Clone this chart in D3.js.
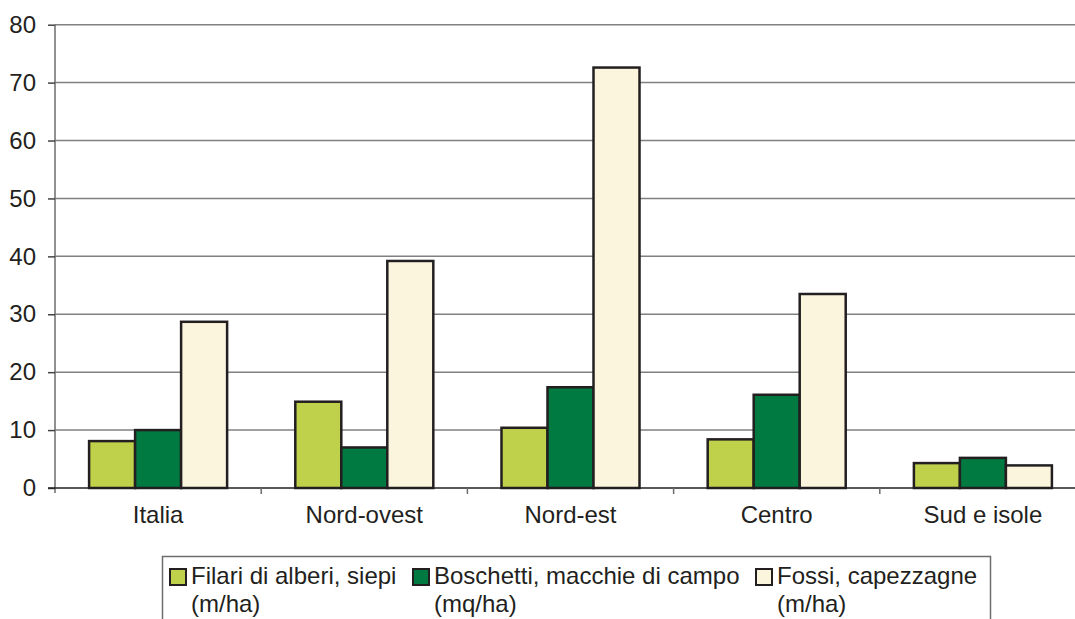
<!DOCTYPE html>
<html>
<head>
<meta charset="utf-8">
<script src="https://cdn.jsdelivr.net/npm/d3@7"></script>
<style>
  html, body { margin: 0; padding: 0; background: #fff; }
  svg { display: block; font-family: "Liberation Sans", Arial, sans-serif; }
</style>
</head>
<body>
<svg id="chart" width="1075" height="619"></svg>
<script>
// Regions and the three landscape-element series
const categories = ["Italia", "Nord-ovest", "Nord-est", "Centro", "Sud e isole"];
const filari = [8.1, 14.9, 10.4, 8.4, 4.3];
const boschetti = [10.0, 7.0, 17.4, 16.1, 5.2];
const fossi = [28.7, 39.2, 72.6, 33.5, 3.9];
const yTicks = [0, 10, 20, 30, 40, 50, 60, 70, 80];

const seriesNames = [
  ["Filari di alberi, siepi", "(m/ha)"],
  ["Boschetti, macchie di campo", "(mq/ha)"],
  ["Fossi, capezzagne", "(m/ha)"]
];
const seriesColors = ["#bfd04b", "#007a40", "#fbf5dd"];
const seriesValues = [filari, boschetti, fossi];

const svg = d3.select("#chart");
const plotLeft = 55, plotRight = 1086, plotTop = 24.7, plotBottom = 488;
const fontSize = 24;

const x = d3.scaleBand().domain(categories).range([plotLeft, plotRight]).paddingInner(0).paddingOuter(0);
const xs = d3.scaleBand().domain([0, 1, 2]).range([0, x.bandwidth()]).paddingInner(0).paddingOuter(0.741);
const y = d3.scaleLinear().domain([0, 80]).range([plotBottom, plotTop]);

// Horizontal gridlines
svg.append("g")
  .selectAll("line")
  .data(yTicks.filter(d => d > 0))
  .join("line")
  .attr("x1", plotLeft).attr("x2", 1075)
  .attr("y1", d => y(d)).attr("y2", d => y(d))
  .attr("stroke", "#808080").attr("stroke-width", 1.5);

// Y axis
const yAxis = svg.append("g")
  .attr("transform", `translate(${plotLeft},0)`)
  .call(d3.axisLeft(y).tickValues(yTicks).tickSize(7).tickPadding(12));
yAxis.select(".domain").attr("stroke", "#6d6d6d").attr("stroke-width", 1.5)
  .attr("d", `M0,${plotTop}V${plotBottom + 5}`);
yAxis.selectAll(".tick line").attr("stroke", "#444").attr("stroke-width", 1.5);
yAxis.selectAll(".tick text").attr("font-size", fontSize).attr("fill", "#231f20")
  .attr("font-family", "Liberation Sans, Arial, sans-serif");

// Bars
const groups = svg.append("g").selectAll("g")
  .data(categories)
  .join("g")
  .attr("transform", d => `translate(${x(d)},0)`);

groups.selectAll("rect")
  .data((d, i) => seriesValues.map((vals, s) => ({ s, v: vals[i] })))
  .join("rect")
  .attr("x", d => xs(d.s))
  .attr("width", xs.bandwidth())
  .attr("y", d => y(d.v))
  .attr("height", d => y(0) - y(d.v))
  .attr("fill", d => seriesColors[d.s])
  .attr("stroke", "#231f20")
  .attr("stroke-width", 2.5);

// X axis
const xAxis = svg.append("g")
  .attr("transform", `translate(0,${plotBottom})`)
  .call(d3.axisBottom(x).tickSize(0).tickPadding(18));
xAxis.select(".domain").attr("stroke", "#231f20").attr("stroke-width", 1.5)
  .attr("d", `M${plotLeft - 7},0H1075`);
xAxis.selectAll(".tick text").attr("font-size", fontSize).attr("fill", "#231f20")
  .attr("font-family", "Liberation Sans, Arial, sans-serif");

// Category separator ticks
svg.append("g")
  .selectAll("line")
  .data(categories.slice(1))
  .join("line")
  .attr("x1", d => x(d)).attr("x2", d => x(d))
  .attr("y1", plotBottom).attr("y2", plotBottom + 6)
  .attr("stroke", "#6d6d6d").attr("stroke-width", 1.5);

// Legend
const legend = svg.append("g");
legend.append("path")
  .attr("d", "M162.5,625V556.5H990.5V625")
  .attr("fill", "none").attr("stroke", "#6d6d6d").attr("stroke-width", 1.5);

const legendX = [170, 413, 756];
const item = legend.selectAll("g.item")
  .data(seriesNames)
  .join("g")
  .attr("class", "item")
  .attr("transform", (d, i) => `translate(${legendX[i]},0)`);
item.append("rect")
  .attr("x", 0).attr("y", 569).attr("width", 16).attr("height", 16)
  .attr("fill", (d, i) => seriesColors[i])
  .attr("stroke", "#231f20").attr("stroke-width", 2);
item.append("text")
  .attr("x", 21).attr("y", 583.5)
  .attr("font-size", fontSize).attr("fill", "#231f20")
  .text(d => d[0]);
item.append("text")
  .attr("x", 21).attr("y", 611.5)
  .attr("font-size", fontSize).attr("fill", "#231f20")
  .text(d => d[1]);
</script>
</body>
</html>
